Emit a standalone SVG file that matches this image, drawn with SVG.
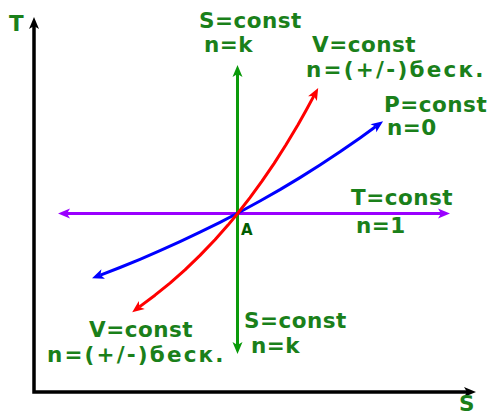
<svg xmlns="http://www.w3.org/2000/svg" width="487" height="418" viewBox="0 0 487 418">
<style>
.lbl{font-family:"DejaVu Sans","Liberation Sans",sans-serif;font-weight:bold;font-size:21.5px;letter-spacing:0.5px;fill:#1a801a}
.pt{font-family:"DejaVu Sans","Liberation Sans",sans-serif;font-weight:bold;font-size:15px;fill:#005c00}
.ln{fill:none;stroke-width:3;stroke-linejoin:round}
</style>
<defs>
<marker id="mk" markerUnits="userSpaceOnUse" viewBox="-1 -6 14 12" refX="3" refY="0" markerWidth="14" markerHeight="12" orient="auto-start-reverse"><path d="M0,-5 L12,0 L0,5 L3,0 Z" fill="#000"/></marker>
<marker id="mg" markerUnits="userSpaceOnUse" viewBox="-1 -6 14 12" refX="3" refY="0" markerWidth="14" markerHeight="12" orient="auto-start-reverse"><path d="M0,-5 L12,0 L0,5 L3,0 Z" fill="#0a9a0a"/></marker>
<marker id="mp" markerUnits="userSpaceOnUse" viewBox="-1 -6 14 12" refX="3" refY="0" markerWidth="14" markerHeight="12" orient="auto-start-reverse"><path d="M0,-5 L12,0 L0,5 L3,0 Z" fill="#9a00ff"/></marker>
<marker id="mr" markerUnits="userSpaceOnUse" viewBox="-1 -6 14 12" refX="3" refY="0" markerWidth="14" markerHeight="12" orient="auto-start-reverse"><path d="M0,-5 L12,0 L0,5 L3,0 Z" fill="#ff0000"/></marker>
<marker id="mb" markerUnits="userSpaceOnUse" viewBox="-1 -6 14 12" refX="3" refY="0" markerWidth="14" markerHeight="12" orient="auto-start-reverse"><path d="M0,-5 L12,0 L0,5 L3,0 Z" fill="#0000ff"/></marker>
</defs>
<g id="connectors">
<path id="axes" d="M34,26 V392 H467" fill="none" stroke="#000" stroke-width="3.5" marker-start="url(#mk)" marker-end="url(#mk)"/>
<path id="isotherm" class="ln" stroke="#9a00ff" d="M67,213.5 H441" marker-start="url(#mp)" marker-end="url(#mp)"/>
<path id="adiabat" class="ln" stroke="#0a9a0a" d="M237.5,345 V74" marker-start="url(#mg)" marker-end="url(#mg)"/>
<path id="isobar" class="ln" stroke="#0000ff" d="M100.4,275.1 L120,267.5 L140,259.3 L160,250.7 L180,241.7 L200,232.2 L220,222.3 L238,213 L260,201 L280,189.6 L300,177.6 L320,165 L340,151.8 L360,137.9 L375.8,126.5" marker-start="url(#mb)" marker-end="url(#mb)"/>
<path id="isochore" class="ln" stroke="#ff0000" d="M139.4,306.9 L155,295.2 L170,283.1 L185,269.8 L200,255.4 L215,239.7 L228,225.1 L238,213 L250,197.6 L262,181.2 L274,163.6 L286,144.8 L298,124.7 L306,110.5 L313.9,95.9" marker-start="url(#mr)" marker-end="url(#mr)"/>
</g>
<g id="axis-T"><text class="lbl" x="9" y="31">T</text></g>
<g id="axis-S"><text class="lbl" x="459" y="411">S</text></g>
<g id="point-A"><text class="pt" x="241" y="235">A</text></g>
<g id="label-S-top">
<text class="lbl" x="199" y="28">S=const</text>
<text class="lbl" x="204" y="52">n=k</text>
</g>
<g id="label-V-top">
<text class="lbl" x="312" y="52">V=const</text>
<text class="lbl" x="306" y="77" textLength="178">n=(+/-)беск.</text>
</g>
<g id="label-P">
<text class="lbl" x="384" y="112">P=const</text>
<text class="lbl" x="387" y="135">n=0</text>
</g>
<g id="label-T">
<text class="lbl" x="351" y="205">T=const</text>
<text class="lbl" x="356" y="233">n=1</text>
</g>
<g id="label-V-bottom">
<text class="lbl" x="89" y="337">V=const</text>
<text class="lbl" x="47" y="362" textLength="177">n=(+/-)беск.</text>
</g>
<g id="label-S-bottom">
<text class="lbl" x="244" y="328">S=const</text>
<text class="lbl" x="251" y="353">n=k</text>
</g>
</svg>
